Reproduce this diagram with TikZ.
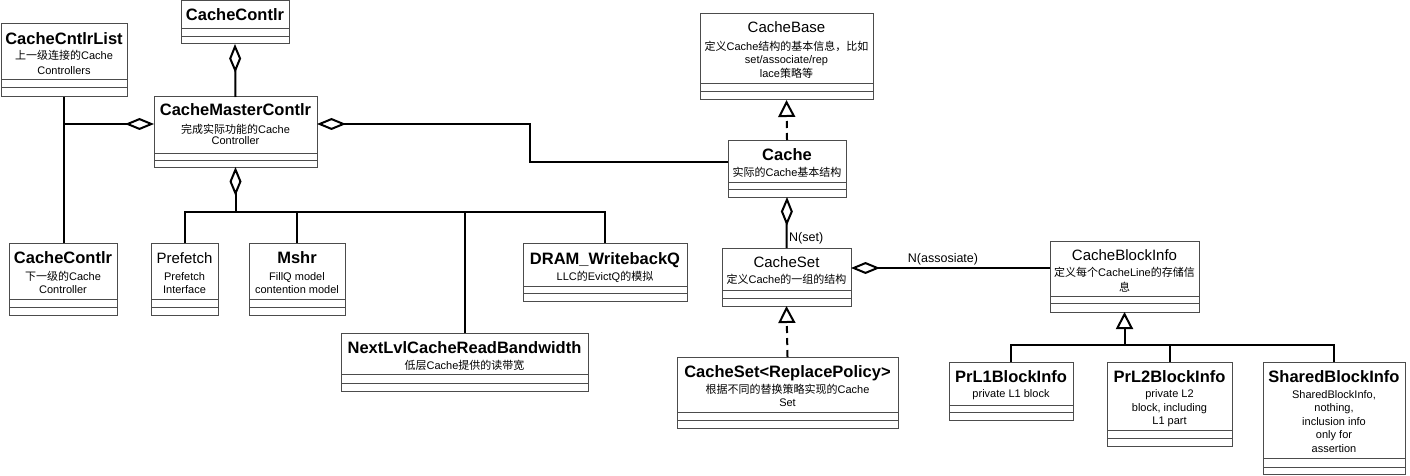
\documentclass[tikz,border=0pt]{standalone}
\usepackage{fontspec}
\setmainfont{Liberation Sans}
\newfontfamily\cjk{Noto Sans CJK SC}
\usetikzlibrary{arrows.meta}
\tikzset{
  cls/.style={draw=black!70, line width=1pt, fill=white, inner sep=0pt, outer sep=0pt, anchor=north west},
  sepl/.style={draw=black!70, line width=1pt},
  tb/.style={font=\fontsize{16.5}{18}\selectfont\bfseries, inner sep=0pt, anchor=base},
  tr/.style={font=\fontsize{15}{18}\selectfont, inner sep=0pt, anchor=base},
  ds/.style={font=\fontsize{11}{13}\selectfont, inner sep=0pt, anchor=base},
  lbl/.style={font=\fontsize{12.5}{14}\selectfont, inner sep=0pt},
  conn/.style={draw=black, line width=2pt},
  agg/.style={-{Diamond[open, length=29pt, width=12pt]}},
  gen/.style={-{Triangle[open, length=17pt, width=17pt]}},
  real/.style={dash pattern=on 7pt off 5pt, -{Triangle[open, length=17pt, width=17pt]}}
}
\newcommand\umlbox[7]{%
  \node[cls, minimum width={#4-#2}, minimum height={#5-#3}] (#1) at (#2,#3) {};
  \draw[sepl] (#2,#6) -- (#4,#6);
  \draw[sepl] (#2,#7) -- (#4,#7);
}
\newcommand\dl[4]{\node[ds] (#1-d#2) at ([yshift=-#3pt]#1.north) {#4};}
\newcommand\tl[4]{\node[#2] (#1-t) at ([yshift=-#3pt]#1.north) {#4};}
\begin{document}
\begin{tikzpicture}[x=1pt,y=-1pt]
\fill[white] (0,0) rectangle (1410,476);
\useasboundingbox (0,0) rectangle (1410,476);

% boxes
\umlbox{cc1}{181}{0.5}{289}{44}{29}{37}
\umlbox{ccl}{1}{24}{127}{97}{80}{88}
\umlbox{cm}{154}{97}{317}{167}{153}{160}
\umlbox{cc2}{9}{243}{117}{315}{299}{307}
\umlbox{pf}{151}{243}{218}{315}{299}{307}
\umlbox{ms}{249}{243}{345}{315}{299}{307}
\umlbox{dr}{523}{243}{687}{301}{286}{293}
\umlbox{nl}{341}{333}{588}{391}{374}{383}
\umlbox{cb}{700}{14}{873}{100}{84}{92}
\umlbox{ca}{728}{140}{846}{197}{182}{189}
\umlbox{cs}{722}{248}{851}{306}{290}{298}
\umlbox{rp}{677}{357}{898}{428}{412}{420}
\umlbox{bi}{1050}{241}{1199}{312}{296}{303}
\umlbox{pa}{949}{362}{1073}{420}{405}{412}
\umlbox{pb}{1107}{362}{1232}{446}{430}{438}
\umlbox{sh}{1263}{362}{1405}{474}{458}{467}

% texts
\tl{cc1}{tb}{20}{CacheContlr}
\tl{ccl}{tb}{21}{CacheCntlrList}
\dl{ccl}{1}{36}{{\cjk 上一级连接的}Cache}
\dl{ccl}{2}{51}{Controllers}
\tl{cm}{tb}{19}{CacheMasterContlr}
\dl{cm}{1}{36}{{\cjk 完成实际功能的}Cache}
\dl{cm}{2}{48}{Controller}
\tl{cc2}{tb}{20}{CacheContlr}
\dl{cc2}{1}{37}{{\cjk 下一级的}Cache}
\dl{cc2}{2}{50}{Controller}
\tl{pf}{tr}{20}{Prefetch}
\dl{pf}{1}{37}{Prefetch}
\dl{pf}{2}{50}{Interface}
\tl{ms}{tb}{20}{Mshr}
\dl{ms}{1}{37}{FillQ model}
\dl{ms}{2}{50}{contention model}
\tl{dr}{tb}{21}{DRAM\_WritebackQ}
\dl{dr}{1}{37}{LLC{\cjk 的}EvictQ{\cjk 的模拟}}
\tl{nl}{tb}{20}{NextLvlCacheReadBandwidth}
\dl{nl}{1}{36}{{\cjk 低层}Cache{\cjk 提供的读带宽}}
\tl{cb}{tr}{19}{CacheBase}
\dl{cb}{1}{37}{{\cjk 定义}Cache{\cjk 结构的基本信息，比如}}
\dl{cb}{2}{50}{set/associate/rep}
\dl{cb}{3}{64}{lace{\cjk 策略等}}
\tl{ca}{tb}{20}{Cache}
\dl{ca}{1}{36}{{\cjk 实际的}Cache{\cjk 基本结构}}
\tl{cs}{tr}{19}{CacheSet}
\dl{cs}{1}{35}{{\cjk 定义}Cache{\cjk 的一组的结构}}
\tl{rp}{tb}{20}{CacheSet<ReplacePolicy>}
\dl{rp}{1}{36}{{\cjk 根据不同的替换策略实现的}Cache}
\dl{rp}{2}{49}{Set}
\tl{bi}{tr}{19}{CacheBlockInfo}
\dl{bi}{1}{35}{{\cjk 定义每个}CacheLine{\cjk 的存储信}}
\dl{bi}{2}{50}{{\cjk 息}}
\tl{pa}{tb}{20}{PrL1BlockInfo}
\dl{pa}{1}{35}{private L1 block}
\tl{pb}{tb}{20}{PrL2BlockInfo}
\dl{pb}{1}{35}{private L2}
\dl{pb}{2}{49}{block, including}
\dl{pb}{3}{62}{L1 part}
\tl{sh}{tb}{20}{SharedBlockInfo}
\dl{sh}{1}{36}{SharedBlockInfo,}
\dl{sh}{2}{49}{nothing,}
\dl{sh}{3}{63}{inclusion info}
\dl{sh}{4}{76}{only for}
\dl{sh}{5}{90}{assertion}

% connectors
\draw[conn] (ccl.south) -- (ccl.south |- cc2.north);
\coordinate (j1) at (63,124);
\draw[conn, agg] (j1) -- (j1 -| cm.west);
\draw[conn, agg] (cm.north) -- (cc1.south);
\coordinate (b1) at (235.5,212);
\draw[conn, agg] (b1) -- (cm.south);
\draw[conn] (pf.north) |- (b1) -| (dr.north);
\draw[conn] (ms.north) -- (ms.north |- b1);
\draw[conn] (nl.north) -- (nl.north |- b1);
\coordinate (k1) at (530,124);
\coordinate (k2) at (530,162);
\draw[conn, agg] (k2 -| ca.west) -- (k2) -- (k1) -- (k1 -| cm.east);
\draw[conn, real] (ca.north) -- (cb.south);
\draw[conn, agg] (cs.north) -- (ca.south);
\node[lbl, anchor=west] (nset) at (789,238) {N(set)};
\draw[conn, real] (rp.north) -- (cs.south);
\coordinate (k3) at (900,268);
\draw[conn, agg] (k3 -| bi.west) -- (k3 -| cs.east);
\node[lbl] (nas) at (943,259) {N(assosiate)};
\coordinate (b2) at (1124.5,345);
\draw[conn, gen] (b2) -- (bi.south);
\draw[conn] (pa.north) |- (b2) -| (sh.north);
\draw[conn] (pb.north) -- (pb.north |- b2);
\end{tikzpicture}
\end{document}
